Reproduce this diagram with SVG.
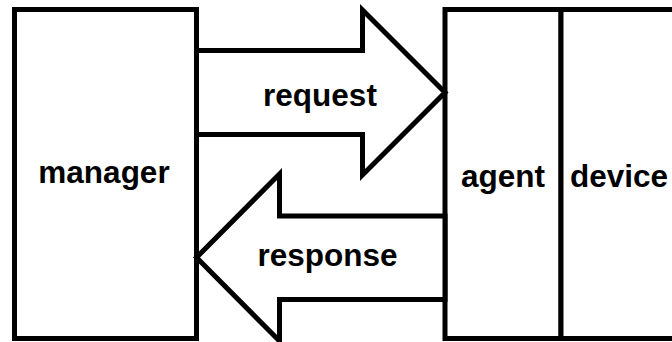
<svg xmlns="http://www.w3.org/2000/svg" width="672" height="342" viewBox="0 0 672 342">
  <style>
    .box { fill: #ffffff; stroke: #000000; stroke-width: 5; }
    .arrow { fill: #ffffff; stroke: #000000; stroke-width: 5; stroke-linejoin: miter; stroke-miterlimit: 10; }
    .label { font-family: "Liberation Sans", Arial, sans-serif; font-weight: bold; font-size: 31.5px; fill: #000000; text-anchor: middle; }
  </style>
  <rect width="672" height="342" fill="#ffffff"/>

  <g id="manager">
    <rect class="box" x="14.5" y="9.5" width="182" height="329"/>
    <text class="label" x="104" y="182.5">manager</text>
  </g>

  <g id="agent">
    <rect class="box" x="445" y="9.5" width="116" height="329"/>
    <text class="label" x="503" y="187">agent</text>
  </g>

  <g id="device">
    <rect class="box" x="561" y="9.5" width="120" height="329"/>
    <text class="label" x="619" y="187">device</text>
  </g>

  <g id="connectors">
    <g id="request">
      <path class="arrow" d="M196.5,50.5 H362.5 V10 L445,92.5 L362.5,175 V134.5 H196.5 Z"/>
      <text class="label" x="320" y="105.5">request</text>
    </g>
    <g id="response">
      <path class="arrow" d="M445,216 H279.5 V174 L196.5,257.5 L279.5,341 V299.5 H445 Z"/>
      <text class="label" x="327.5" y="265.5">response</text>
    </g>
  </g>
</svg>
